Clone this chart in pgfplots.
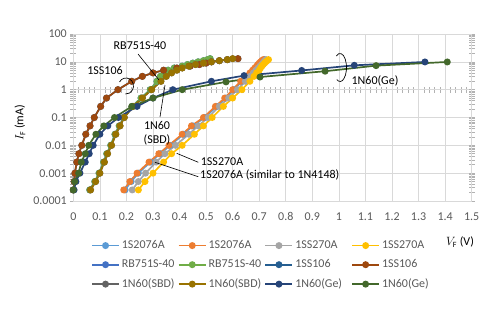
\documentclass[border=0pt]{standalone}
\usepackage{pgfplots}
\pgfplotsset{compat=1.18}
\usepackage{fontspec}
\setmainfont{Carlito}
\definecolor{cA}{HTML}{5B9BD5}
\definecolor{cB}{HTML}{ED7D31}
\definecolor{cC}{HTML}{A5A5A5}
\definecolor{cD}{HTML}{FFC000}
\definecolor{cE}{HTML}{4472C4}
\definecolor{cF}{HTML}{70AD47}
\definecolor{cG}{HTML}{255E91}
\definecolor{cH}{HTML}{9E480E}
\definecolor{cI}{HTML}{636363}
\definecolor{cJ}{HTML}{997300}
\definecolor{cK}{HTML}{264478}
\definecolor{cL}{HTML}{43682B}
\definecolor{gridc}{HTML}{D9D9D9}
\definecolor{tickc}{HTML}{595959}
\begin{document}
\begin{tikzpicture}
\path[use as bounding box] (-73.3pt,-134pt) rectangle (426.7pt,201pt);
% horizontal axis line crossing at 1 with minor ticks
\draw[black!30, line width=0.6pt] (0pt,111.33pt) -- (398.4pt,111.33pt);
\foreach \i in {0,...,75}{\draw[black!30, line width=0.6pt] ({\i*5.312pt},108.33pt) -- ++(0pt,6pt);}
\begin{axis}[
  scale only axis, width=398.4pt, height=167pt,
  xmin=0, xmax=1.5, ymin=0.0001, ymax=100, ymode=log,
  xtick={0,0.1,0.2,0.3,0.4,0.5,0.6,0.7,0.8,0.9,1,1.1,1.2,1.3,1.4,1.5},
  xticklabels={0,0.1,0.2,0.3,0.4,0.5,0.6,0.7,0.8,0.9,1,1.1,1.2,1.3,1.4,1.5},
  ytick={0.0001,0.001,0.01,0.1,1,10,100},
  yticklabels={0.0001,0.001,0.01,0.1,1,10,100},
  grid=major, major grid style={draw=gridc, line width=0.6pt},
  axis line style={draw=gridc, line width=0.6pt},
  tick label style={font=\fontsize{12}{14}\selectfont, text=tickc},
  xticklabel style={yshift=-5pt},
  x tick style={draw=none}, xtick align=center,
  y tick style={draw=black!30, line width=0.6pt}, ytick align=center,
  major tick length=6pt, minor tick length=6pt,
  every axis plot/.append style={line width=1.7pt, mark=*, mark size=2.6pt, mark options={solid}},
  legend columns=4,
  legend style={at={(0.0369,-0.225)}, anchor=north west, draw=none, fill=none,
    font=\fontsize{12}{14}\selectfont, text=tickc,
    nodes={text width=54pt, inner xsep=2pt, inner ysep=0pt, anchor=west},
    row sep=9.5pt},
  legend image code/.code={\draw[mark repeat=2,mark phase=2] plot coordinates {(0pt,0pt) (13.5pt,0pt) (27pt,0pt)};},
]
\addplot[color=cA] coordinates {(0.195,0.00025)(0.218,0.0005)(0.245,0.001)(0.29,0.0025)(0.327,0.005)(0.365,0.01)(0.415,0.025)(0.45,0.05)(0.495,0.1)(0.54,0.25)(0.575,0.5)(0.605,1)(0.635,2)(0.655,3)(0.67,4)(0.68,5)(0.688,6)(0.695,7)(0.70,8)(0.705,9)(0.71,10)(0.715,11)(0.72,12)};
\addlegendentry{1S2076A}
\addplot[color=cB] coordinates {(0.19,0.00025)(0.213,0.0005)(0.24,0.001)(0.285,0.0025)(0.322,0.005)(0.36,0.01)(0.41,0.025)(0.445,0.05)(0.49,0.1)(0.535,0.25)(0.57,0.5)(0.60,1)(0.63,2)(0.65,3)(0.665,4)(0.675,5)(0.683,6)(0.69,7)(0.695,8)(0.70,9)(0.705,10)(0.71,11)(0.715,12)};
\addlegendentry{1S2076A}
\addplot[color=cC] coordinates {(0.222,0.00025)(0.245,0.0005)(0.272,0.001)(0.312,0.0025)(0.345,0.005)(0.385,0.01)(0.435,0.025)(0.47,0.05)(0.508,0.1)(0.55,0.25)(0.585,0.5)(0.618,1)(0.648,2)(0.665,3)(0.678,4)(0.688,5)(0.696,6)(0.703,7)(0.709,8)(0.714,9)(0.718,10)(0.722,11)(0.726,12)};
\addlegendentry{1SS270A}
\addplot[color=cD] coordinates {(0.245,0.00025)(0.27,0.0005)(0.30,0.001)(0.34,0.0025)(0.37,0.005)(0.41,0.01)(0.456,0.025)(0.49,0.05)(0.523,0.1)(0.565,0.25)(0.60,0.5)(0.635,1)(0.665,2)(0.68,3)(0.69,4)(0.70,5)(0.705,6)(0.71,7)(0.715,8)(0.72,9)(0.725,10)(0.73,11)(0.735,12)};
\addlegendentry{1SS270A}
\addplot[color=cE] coordinates {(0.062,0.00025)(0.081,0.0005)(0.097,0.001)(0.114,0.0025)(0.126,0.005)(0.141,0.01)(0.157,0.025)(0.173,0.05)(0.19,0.1)(0.222,0.25)(0.255,0.5)(0.29,1)(0.315,2)(0.328,3)(0.342,4)(0.357,5)(0.38,6)(0.41,7)(0.43,8)(0.45,9)(0.47,10)(0.49,11)(0.505,12)(0.515,13)};
\addlegendentry{RB751S-40}
\addplot[color=cF] coordinates {(0.062,0.00025)(0.081,0.0005)(0.097,0.001)(0.114,0.0025)(0.126,0.005)(0.141,0.01)(0.157,0.025)(0.173,0.05)(0.19,0.1)(0.222,0.25)(0.255,0.5)(0.29,1)(0.315,2)(0.328,3)(0.342,4)(0.357,5)(0.38,6)(0.41,7)(0.43,8)(0.45,9)(0.47,10)(0.49,11)(0.505,12)(0.515,13)};
\addlegendentry{RB751S-40}
\addplot[color=cG] coordinates {(0.0,0.00025)(0.003,0.0005)(0.006,0.001)(0.013,0.0025)(0.021,0.005)(0.032,0.01)(0.047,0.025)(0.063,0.05)(0.079,0.1)(0.103,0.25)(0.125,0.5)(0.168,1)(0.22,2)(0.26,3)(0.30,4)(0.34,5)(0.39,6)(0.44,7)(0.475,8)(0.50,9)(0.52,10)(0.55,11)(0.58,12)(0.62,13)};
\addlegendentry{1SS106}
\addplot[color=cH] coordinates {(0.0,0.00025)(0.003,0.0005)(0.006,0.001)(0.013,0.0025)(0.021,0.005)(0.032,0.01)(0.047,0.025)(0.063,0.05)(0.079,0.1)(0.103,0.25)(0.125,0.5)(0.168,1)(0.22,2)(0.26,3)(0.30,4)(0.34,5)(0.39,6)(0.44,7)(0.475,8)(0.50,9)(0.52,10)(0.55,11)(0.58,12)(0.62,13)};
\addlegendentry{1SS106}
\addplot[color=cI] coordinates {(0.065,0.00025)(0.084,0.0005)(0.10,0.001)(0.117,0.0025)(0.129,0.005)(0.144,0.01)(0.16,0.025)(0.176,0.05)(0.192,0.1)(0.225,0.25)(0.26,0.5)(0.295,1)(0.33,2)(0.35,3)(0.37,4)(0.39,5)(0.41,6)(0.435,7)(0.46,8)(0.49,9)(0.52,10)(0.55,11)(0.58,12)(0.60,13)};
\addlegendentry{1N60(SBD)}
\addplot[color=cJ] coordinates {(0.065,0.00025)(0.084,0.0005)(0.10,0.001)(0.117,0.0025)(0.129,0.005)(0.144,0.01)(0.16,0.025)(0.176,0.05)(0.192,0.1)(0.225,0.25)(0.26,0.5)(0.295,1)(0.33,2)(0.35,3)(0.37,4)(0.39,5)(0.41,6)(0.435,7)(0.46,8)(0.49,9)(0.52,10)(0.55,11)(0.58,12)(0.60,13)};
\addlegendentry{1N60(SBD)}
\addplot[color=cK] coordinates {(0.003,0.00025)(0.01,0.0005)(0.025,0.001)(0.045,0.0025)(0.06,0.005)(0.075,0.01)(0.10,0.025)(0.13,0.05)(0.17,0.1)(0.24,0.25)(0.30,0.5)(0.375,1)(0.52,2)(0.643,3.2)(0.86,4.9)(1.058,7.5)(1.324,9.9)};
\addlegendentry{1N60(Ge)}
\addplot[color=cL] coordinates {(0.0,0.00025)(0.005,0.0005)(0.02,0.001)(0.03,0.0025)(0.045,0.005)(0.058,0.01)(0.085,0.025)(0.115,0.05)(0.155,0.1)(0.22,0.25)(0.30,0.5)(0.41,1)(0.575,1.9)(0.703,2.85)(0.948,4.6)(1.14,7.3)(1.408,9.9)};
\addlegendentry{1N60(Ge)}
\end{axis}
% annotations (pixel -> pt: x-73.3, 201-y)
\begin{scope}[font=\fontsize{12}{14}\selectfont]
\node at (66.7pt,155pt) {RB751S-40};
\draw[black, line width=0.6pt] (64.7pt,147pt) -- (85.7pt,121pt);
\node at (31.7pt,131pt) {1SS106};
\draw[black, line width=0.7pt] (46.2pt,119pt) arc[start angle=150, end angle=-95, x radius=7.5pt, y radius=8pt];
\node[align=center, inner sep=0pt] at (83.7pt,68pt) {1N60\\(SBD)};
\draw[black, line width=0.6pt] (86.7pt,84pt) -- (91.7pt,116pt);
\node[anchor=west, inner sep=0pt] at (127.4pt,39.3pt) {1SS270A};
\draw[black, line width=0.6pt] (103.4pt,47.7pt) -- (125pt,38.7pt);
\node[anchor=west, inner sep=0pt] at (126.7pt,26pt) {1S2076A (similar to 1N4148)};
\draw[black, line width=0.6pt] (81.7pt,38.7pt) -- (125pt,24.3pt);
\draw[black, line width=0.7pt] (263pt,145pt) arc[start angle=125, end angle=-120, x radius=6.5pt, y radius=14pt];
\node at (301.7pt,120.3pt) {1N60(Ge)};
\node at (386.7pt,-41pt) {$V_\mathrm{F}$ (V)};
\node[rotate=90] at (-53.3pt,78pt) {$I_\mathrm{F}$ (mA)};
\end{scope}
\end{tikzpicture}
\end{document}
